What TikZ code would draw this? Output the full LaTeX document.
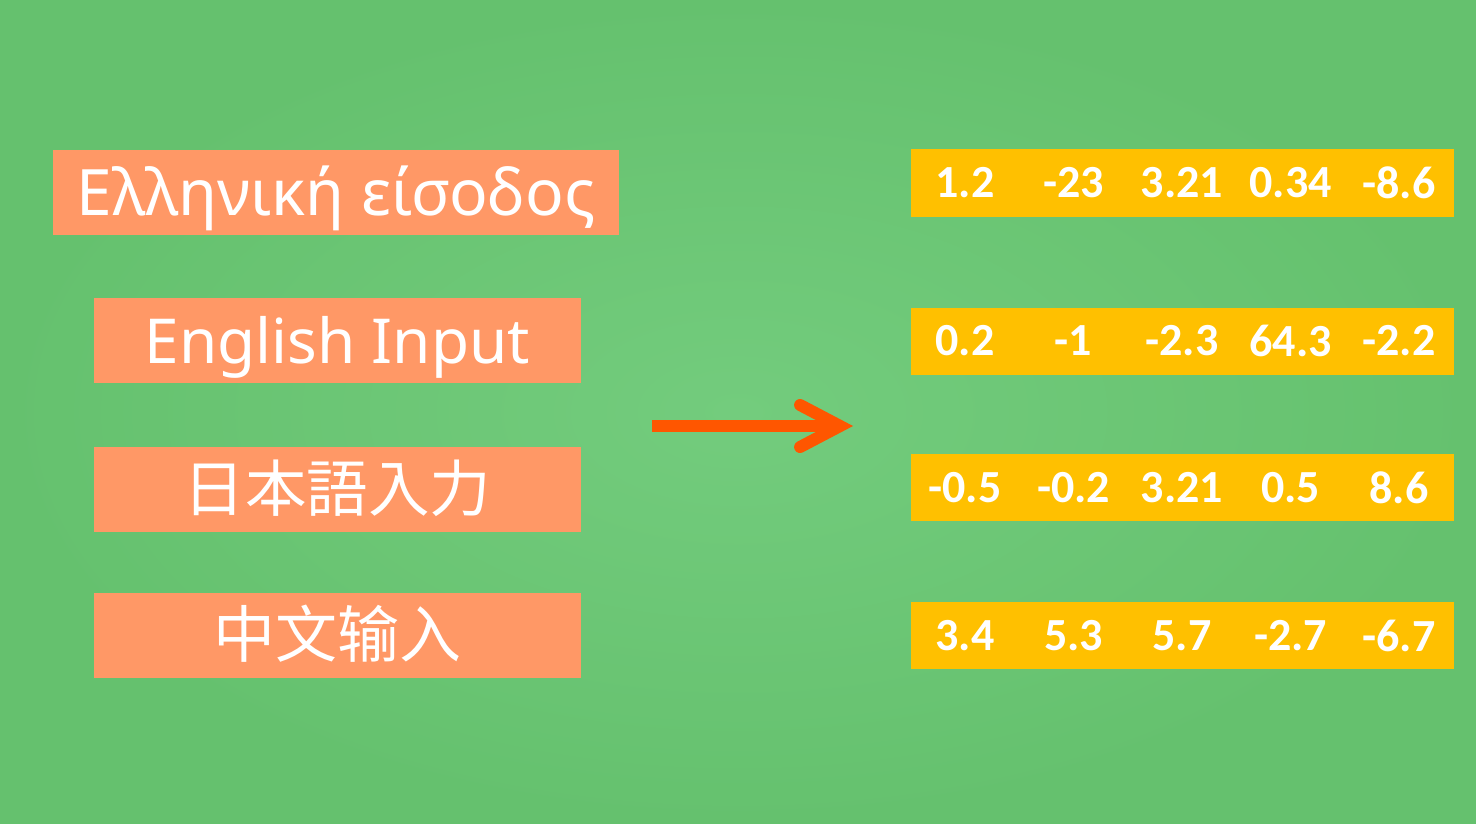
\documentclass[tikz,border=0pt]{standalone}
\usepackage{fontspec}
\setmainfont{Noto Sans}
\newfontfamily\numfont{Carlito}
\newfontfamily\jpfont{Noto Sans CJK JP}
\newfontfamily\scfont{Noto Sans CJK SC}
\usetikzlibrary{arrows.meta, positioning}
\definecolor{bggreen}{RGB}{101,193,110}
\definecolor{bglight}{RGB}{115,204,125}
\definecolor{salmon}{RGB}{255,152,102}
\definecolor{gold}{RGB}{255,192,0}
\definecolor{arroworange}{RGB}{255,86,0}
\tikzset{
  inbox/.style={fill=salmon, text=white, inner sep=0pt, minimum height=85pt,
    text height=45pt, text depth=0pt},
  vecbox/.style={fill=gold, inner sep=0pt, minimum width=543pt, minimum height=67pt},
  num/.style={text=white, inner sep=0pt, font=\numfont\bfseries\fontsize{46}{50}\selectfont}
}

\begin{document}
\begin{tikzpicture}[x=1pt, y=-1pt]
  \useasboundingbox (0,0) rectangle (1476,824);
  \shade[inner color=bglight, outer color=bggreen] (0,0) rectangle (1476,824);
  % inputs
  \node[inbox, minimum width=566pt, font=\fontsize{64}{70}\selectfont] (greek) at (336,192.5) {Ελληνική είσοδος};
  \node[inbox, minimum width=487pt, font=\fontsize{62}{70}\selectfont] (english) at (337.5,340.5) {English Input};
  \node[inbox, minimum width=487pt, font=\jpfont\fontsize{61.5}{66}\selectfont] (japanese) at (337.5,489) {日本語入力};
  \node[inbox, minimum width=487pt, font=\scfont\fontsize{62}{66}\selectfont] (chinese) at (337.5,635) {中文输入};
  %
  \coordinate (arrowtail) at (652,426);
  \coordinate (arrowtip) at (853,426);
  \draw[arroworange, line width=12pt, -{Straight Barb[length=40pt, width=42pt, line cap=round, line join=miter]}] (arrowtail) -- (arrowtip);
  % vectors
  \node[vecbox] (vec1) at (1182.5,183) {};
  \node[vecbox] (vec2) at (1182.5,341) {};
  \node[vecbox] (vec3) at (1182.5,487.5) {};
  \node[vecbox] (vec4) at (1182.5,635.5) {};
  \foreach \v [count=\i] in {1.2,-23,3.21,0.34,-8.6}
    \node[num] (vec1-\i) at (856.5+108.5*\i,183) {\v};
  \foreach \v [count=\i] in {0.2,-1,-2.3,64.3,-2.2}
    \node[num] (vec2-\i) at (856.5+108.5*\i,341) {\v};
  \foreach \v [count=\i] in {-0.5,-0.2,3.21,0.5,8.6}
    \node[num] (vec3-\i) at (856.5+108.5*\i,487.5) {\v};
  \foreach \v [count=\i] in {3.4,5.3,5.7,-2.7,-6.7}
    \node[num] (vec4-\i) at (856.5+108.5*\i,635.5) {\v};
\end{tikzpicture}
\end{document}
